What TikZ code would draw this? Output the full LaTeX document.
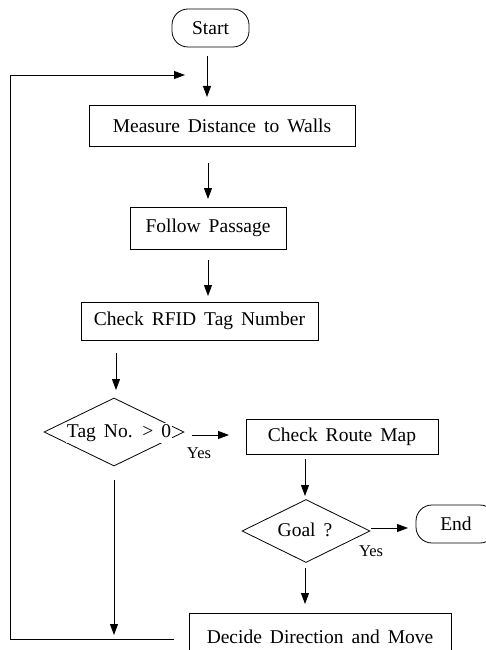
\documentclass[tikz,border=0pt]{standalone}
\usepackage{fontspec}
\setmainfont{Liberation Serif}[WordSpace=1.64]
\usetikzlibrary{arrows.meta,shapes.geometric}
\tikzset{
  txt/.style={font=\fontsize{19.5}{23}\selectfont},
  proc/.style={draw, line width=0.8pt, inner sep=0pt, txt},
  term/.style={proc, rounded corners=16pt},
  dia/.style={draw, line width=0.8pt, shape=diamond, inner sep=0pt},
  dtext/.style={fill=white, inner sep=1pt, txt},
  arr/.style={-{Triangle[length=11pt,width=8pt]}, line width=0.8pt},
  lbl/.style={inner sep=0pt, font=\fontsize{16.5}{20}\selectfont}
}
\begin{document}
\begin{tikzpicture}[x=1pt,y=-1pt]
\useasboundingbox (0,0) rectangle (485,650);
% nodes
\node[term, minimum width=77pt, minimum height=38pt] (start) at (210.5,28) {Start};
\node[proc, minimum width=266pt, minimum height=41pt] (measure) at (222,125.5) {Measure Distance to Walls};
\node[proc, minimum width=156pt, minimum height=42pt] (follow) at (208,228) {Follow Passage};
\node[proc, minimum width=237pt, minimum height=38pt] (rfid) at (199.5,321) {Check RFID Tag Number};
\node[dia, minimum width=140pt, minimum height=68pt] (tag) at (114,432) {};
\node[dtext] (tagtext) at (119,433) {Tag No. > 0};
\node[proc, minimum width=192pt, minimum height=35pt] (route) at (342,436.5) {Check Route Map};
\node[dia, minimum width=128pt, minimum height=63pt] (goal) at (306,531) {};
\node[inner sep=0pt, txt] (goaltext) at (305,530) {Goal ?};
\node[term, minimum width=80pt, minimum height=38pt] (end) at (456,524) {End\hspace{16pt}};
\node[proc, minimum width=262pt, minimum height=47pt] (decide) at (320,636.5) {Decide Direction and Move\hspace{13pt}};
\node[lbl] (yes1) at (199,453) {Yes};
\node[lbl] (yes2) at (371,551) {Yes};
% connector end points
\coordinate (a1) at (207,56);  \coordinate (b1) at (207,97);
\coordinate (a2) at (208,163); \coordinate (b2) at (208,199);
\coordinate (a3) at (208,260); \coordinate (b3) at (208,296);
\coordinate (a4) at (116,353); \coordinate (b4) at (116,390);
\coordinate (a5) at (192,435); \coordinate (b5) at (229,435);
\coordinate (a6) at (305,459); \coordinate (b6) at (305,496);
\coordinate (a7) at (371,528); \coordinate (b7) at (408,528);
\coordinate (a8) at (305,568); \coordinate (b8) at (305,604);
\coordinate (a9) at (114,480); \coordinate (b9) at (114,635);
\coordinate (l1) at (174,639); \coordinate (l2) at (10,639);
\coordinate (l3) at (10,75);   \coordinate (l4) at (185,75);
% connectors
\draw[arr] (a1) -- (b1);
\draw[arr] (a2) -- (b2);
\draw[arr] (a3) -- (b3);
\draw[arr] (a4) -- (b4);
\draw[arr] (a5) -- (b5);
\draw[arr] (a6) -- (b6);
\draw[arr] (a7) -- (b7);
\draw[arr] (a8) -- (b8);
\draw[arr] (a9) -- (b9);
\draw[arr] (l1) -- (l2) -- (l3) -- (l4);
\end{tikzpicture}
\end{document}
